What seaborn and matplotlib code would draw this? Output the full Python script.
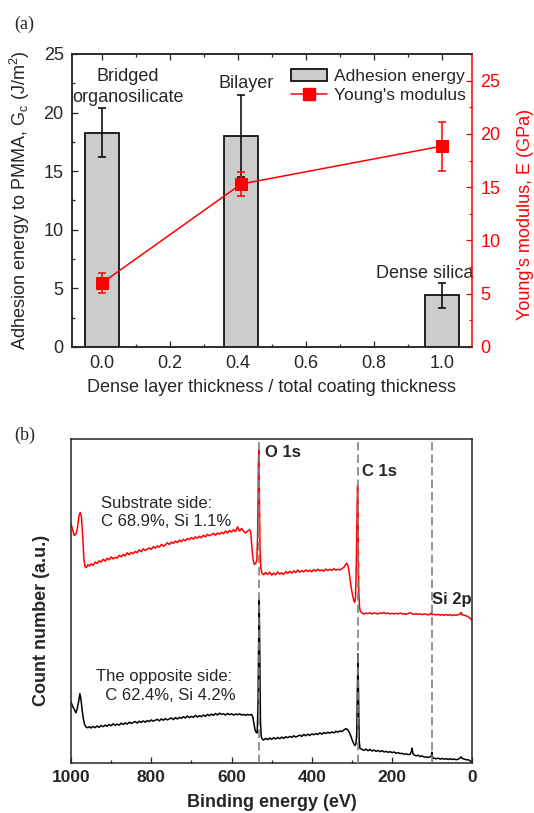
import numpy as np
import matplotlib
matplotlib.use("Agg")
import matplotlib.pyplot as plt
import seaborn as sns
from matplotlib.patches import Patch
from matplotlib.lines import Line2D
from matplotlib.ticker import MultipleLocator

# ---- panel (a) data ----
thickness = [0.0, 0.41, 1.0]
adhesion = [18.3, 18.0, 4.4]
adhesion_err = [2.1, 3.5, 1.1]
modulus = [6.0, 15.3, 18.85]
modulus_err = [0.95, 1.1, 2.3]
sample_names = ["Bridged\norganosilicate", "Bilayer", "Dense silica"]

# ---- panel (b) data: XPS survey spectra (counts, a.u.) ----
red_ev = [1000, 996, 992, 988, 984, 980, 977, 974, 971, 968,
          965, 962, 958, 954, 950, 945, 940, 935, 930, 925,
          920, 915, 910, 905, 900, 895, 890, 885, 880, 875,
          870, 865, 860, 855, 850, 845, 840, 835, 830, 825,
          820, 815, 810, 805, 800, 795, 790, 785, 780, 775,
          770, 765, 760, 755, 750, 745, 740, 735, 730, 725,
          720, 715, 710, 705, 700, 695, 690, 685, 680, 675,
          670, 665, 660, 655, 650, 645, 640, 635, 630, 625,
          620, 615, 610, 605, 600, 595, 590, 585, 580, 575,
          570, 565, 560, 555, 552, 549, 546, 543, 540, 537,
          535, 533, 532, 531, 529, 527, 524, 520, 515, 510,
          505, 500, 495, 490, 485, 480, 475, 470, 465, 460,
          455, 450, 445, 440, 435, 430, 425, 420, 415, 410,
          405, 400, 395, 390, 385, 380, 375, 370, 365, 360,
          355, 350, 345, 340, 335, 330, 325, 320, 316, 313,
          310, 307, 304, 301, 298, 295, 293, 291, 289, 287,
          286, 285, 284, 283, 281, 279, 275, 270, 265, 260,
          255, 250, 245, 240, 235, 230, 225, 220, 215, 210,
          205, 200, 195, 190, 185, 180, 175, 170, 165, 160,
          155, 150, 145, 140, 135, 130, 125, 120, 115, 110,
          105, 102, 100, 95, 90, 85, 80, 75, 70, 65,
          60, 55, 50, 45, 40, 35, 30, 28, 25, 20,
          15, 10, 5, 0]
red_counts = [73.8, 72.0, 70.2, 70.6, 72.5, 76.5, 77.3, 76.0, 70.0, 63.0,
              60.6, 60.3, 61.2, 60.8, 61.5, 61.0, 62.0, 61.6, 62.4, 62.0,
              62.9, 62.3, 63.2, 62.7, 63.6, 63.0, 63.5, 63.2, 64.1, 63.6,
              64.4, 63.9, 64.9, 64.3, 65.0, 64.6, 65.3, 64.9, 65.8, 65.2,
              66.1, 65.6, 66.0, 66.4, 65.9, 66.8, 66.3, 67.0, 66.6, 67.5,
              66.9, 67.3, 68.0, 67.4, 68.2, 67.8, 68.5, 68.0, 68.8, 68.3,
              69.0, 68.6, 69.3, 68.9, 69.6, 69.1, 69.8, 69.4, 70.0, 69.5,
              70.3, 69.8, 70.6, 70.1, 70.5, 70.9, 70.3, 71.0, 70.6, 71.2,
              70.8, 71.6, 71.0, 71.8, 71.3, 72.0, 71.4, 72.9, 71.6, 72.4,
              71.5, 71.0, 71.6, 72.0, 71.2, 66.0, 62.5, 61.3, 61.6, 62.5,
              70.0, 93.0, 96.7, 88.0, 66.0, 60.0, 58.5, 58.1, 58.8, 58.2,
              58.9, 58.0, 58.6, 58.1, 59.0, 58.3, 58.7, 58.2, 59.1, 58.5,
              59.2, 58.6, 59.3, 58.8, 59.6, 58.9, 59.4, 59.0, 59.6, 59.1,
              59.5, 59.0, 59.7, 59.2, 59.8, 59.3, 59.6, 59.2, 59.9, 59.4,
              59.8, 59.4, 60.0, 59.5, 59.8, 59.6, 60.0, 60.4, 61.2, 61.7,
              61.0, 59.0, 56.0, 53.5, 51.5, 50.0, 49.6, 51.0, 62.0, 80.0,
              85.6, 82.0, 65.0, 53.0, 48.0, 46.8, 46.3, 46.0, 46.3, 46.1,
              46.4, 46.0, 46.3, 46.2, 46.0, 46.3, 46.2, 46.5, 46.1, 46.3,
              46.0, 46.2, 46.0, 46.2, 46.0, 46.3, 46.0, 46.1, 45.9, 46.1,
              46.4, 46.0, 45.9, 46.1, 45.9, 46.0, 45.8, 46.0, 45.9, 45.7,
              45.9, 46.4, 45.8, 45.9, 45.7, 45.9, 45.6, 45.8, 45.6, 45.8,
              45.6, 45.8, 45.5, 45.7, 45.6, 45.8, 46.0, 46.5, 45.7, 45.6,
              45.4, 45.1, 44.6, 44.0]

black_ev = [1000, 996, 992, 988, 985, 981, 978, 975, 972, 969,
            966, 962, 958, 954, 950, 945, 940, 935, 930, 925,
            920, 915, 910, 905, 900, 895, 890, 885, 880, 875,
            870, 865, 860, 855, 850, 845, 840, 835, 830, 825,
            820, 815, 810, 805, 800, 795, 790, 785, 780, 775,
            770, 765, 760, 755, 750, 745, 740, 735, 730, 725,
            720, 715, 710, 705, 700, 695, 690, 685, 680, 675,
            670, 665, 660, 655, 650, 645, 640, 635, 630, 625,
            620, 615, 610, 605, 600, 595, 590, 585, 580, 575,
            570, 565, 560, 555, 550, 547, 544, 541, 538, 536,
            534, 532, 531, 530, 528, 526, 523, 520, 515, 510,
            505, 500, 495, 490, 485, 480, 475, 470, 465, 460,
            455, 450, 445, 440, 435, 430, 425, 420, 415, 410,
            405, 400, 395, 390, 385, 380, 375, 370, 365, 360,
            355, 350, 345, 340, 335, 330, 325, 320, 315, 311,
            307, 303, 299, 295, 292, 290, 288, 286, 285, 284,
            282, 280, 275, 270, 265, 260, 255, 250, 245, 240,
            235, 230, 225, 220, 215, 210, 205, 200, 195, 190,
            185, 180, 175, 170, 165, 160, 155, 152, 150, 148,
            145, 140, 135, 130, 125, 120, 115, 110, 105, 102,
            101, 100, 98, 95, 90, 85, 80, 75, 70, 65,
            60, 55, 50, 45, 40, 35, 30, 28, 25, 20,
            15, 10, 5, 0]
black_counts = [18.8, 17.5, 16.6, 15.5, 16.5, 19.0, 21.4, 19.5, 16.0, 13.5,
                11.8, 11.0, 10.9, 11.2, 10.8, 11.3, 10.9, 11.4, 11.0, 11.6,
                11.2, 11.7, 11.3, 11.9, 11.5, 12.1, 11.6, 12.0, 11.7, 12.3,
                11.9, 12.4, 12.0, 12.6, 12.2, 12.5, 12.8, 12.3, 12.9, 12.5,
                13.0, 12.6, 13.1, 12.8, 13.3, 12.9, 13.2, 13.5, 13.0, 13.6,
                13.2, 13.7, 13.3, 13.6, 13.9, 13.4, 14.0, 13.6, 14.1, 13.8,
                14.3, 13.9, 14.5, 14.0, 14.4, 14.1, 14.7, 14.2, 14.6, 14.3,
                14.8, 14.4, 15.0, 14.6, 15.1, 14.7, 15.3, 14.8, 15.4, 15.0,
                15.2, 14.8, 15.3, 14.9, 15.2, 14.8, 15.1, 14.9, 15.2, 14.8,
                15.0, 14.7, 15.0, 14.8, 15.0, 14.2, 12.0, 10.0, 9.4, 9.3,
                18.0, 43.0, 50.3, 36.0, 13.0, 8.2, 7.3, 7.1, 7.6, 7.2,
                7.7, 7.3, 7.8, 7.4, 7.9, 7.5, 8.0, 7.6, 8.1, 7.8,
                8.2, 7.9, 8.4, 8.0, 8.3, 8.6, 8.2, 8.8, 8.4, 8.9,
                8.5, 9.0, 8.7, 9.1, 8.8, 9.3, 8.9, 9.4, 9.1, 9.5,
                9.2, 9.6, 9.3, 9.8, 9.5, 9.9, 9.7, 10.2, 10.6, 10.3,
                9.6, 8.4, 7.0, 5.8, 5.4, 6.0, 9.0, 25.0, 33.7, 26.0,
                7.0, 4.5, 4.2, 3.9, 4.3, 3.8, 4.2, 3.7, 4.0, 3.6,
                3.9, 3.5, 3.8, 3.4, 3.6, 3.3, 3.5, 3.2, 3.4, 3.0,
                3.2, 2.9, 3.0, 2.7, 2.8, 2.6, 2.7, 3.5, 4.6, 2.9,
                2.5, 2.2, 2.4, 2.0, 2.2, 1.8, 1.9, 1.7, 1.9, 2.2,
                3.3, 2.4, 1.4, 1.5, 1.3, 1.5, 1.2, 1.4, 1.2, 1.3,
                1.1, 1.3, 1.1, 1.2, 1.0, 1.2, 1.6, 1.9, 1.4, 1.2,
                1.0, 1.0, 0.6, 0.3]

peak_ev = [531, 285.5, 101]
peak_names = ["O 1s", "C 1s", "Si 2p"]

sns.set_style("ticks")
plt.rcParams["font.family"] = ["Liberation Sans", "DejaVu Sans"]
plt.rcParams["mathtext.fontset"] = "custom"
plt.rcParams["mathtext.rm"] = "Liberation Sans"
plt.rcParams["mathtext.it"] = "Liberation Sans:italic"
plt.rcParams["axes.linewidth"] = 1.1

fig = plt.figure(figsize=(5.34, 8.13), dpi=100)

# ================= panel (a) =================
ax = fig.add_axes([0.1348, 0.5732, 0.7491, 0.3604])
sns.barplot(x=thickness, y=adhesion, native_scale=True, width=0.1 / 0.41,
            color="#cccccc", saturation=1, edgecolor="black", linewidth=1.2,
            errorbar=None, ax=ax)
ax.errorbar(thickness, adhesion, yerr=adhesion_err, fmt="none",
            ecolor="black", elinewidth=1.1, capsize=3, capthick=1.1)
ax.set_xlim(-0.088, 1.089)
ax.set_ylim(0, 25)
ax.xaxis.set_major_locator(MultipleLocator(0.2))
ax.xaxis.set_minor_locator(MultipleLocator(0.1))
ax.yaxis.set_major_locator(MultipleLocator(5))
ax.yaxis.set_minor_locator(MultipleLocator(2.5))
ax.set_xticks([0.0, 0.2, 0.4, 0.6, 0.8, 1.0])
ax.set_xticklabels(["0.0", "0.2", "0.4", "0.6", "0.8", "1.0"])
ax.tick_params(which="both", direction="in", top=True, right=False,
               labelsize=13, width=0.9)
ax.tick_params(which="major", length=4, pad=6)
ax.tick_params(which="minor", length=2.2)
ax.spines["right"].set_visible(False)
ax.set_xlabel("Dense layer thickness / total coating thickness", fontsize=13)
ax.set_ylabel("Adhesion energy to PMMA, G$_\\mathrm{c}$ (J/m$^2$)", fontsize=13)
ax.xaxis.set_label_coords(0.5, -0.11)
ax.yaxis.set_label_coords(-0.1, 0.5)

ax.text(0.077, 22.2, sample_names[0], ha="center", va="center", fontsize=13,
        linespacing=1.3)
ax.text(0.425, 22.45, sample_names[1], ha="center", va="center", fontsize=13)
ax.text(0.95, 6.3, sample_names[2], ha="center", va="center", fontsize=13)

ax2 = ax.twinx()
sns.lineplot(x=thickness, y=modulus, ax=ax2, color="red", marker="s",
             markersize=8, markeredgecolor="red", linewidth=1.1,
             estimator=None)
ax2.errorbar(thickness, modulus, yerr=modulus_err, fmt="none", ecolor="red",
             elinewidth=1.1, capsize=3, capthick=1.1)
ax2.set_ylim(0, 27.5)
ax2.yaxis.set_major_locator(MultipleLocator(5))
ax2.yaxis.set_minor_locator(MultipleLocator(2.5))
ax2.tick_params(which="both", direction="in", colors="red", labelsize=13,
                width=0.9)
ax2.tick_params(which="major", length=4, pad=6)
ax2.tick_params(which="minor", length=2.2)
ax2.spines["right"].set_color("red")
ax2.set_ylabel("Young's modulus, E (GPa)", color="red", fontsize=13)
ax2.yaxis.set_label_coords(1.112, 0.454)

handles = [Patch(facecolor="#cccccc", edgecolor="black", linewidth=1.2),
           Line2D([], [], color="red", marker="s", markersize=8, linewidth=1.1)]
ax2.legend(handles, ["Adhesion energy", "Young's modulus"], loc="upper right",
           frameon=False, fontsize=12.5, handlelength=2.1, handletextpad=0.4,
           labelspacing=0.2, borderaxespad=0.3, bbox_to_anchor=(1.015, 0.99))

# ================= panel (b) =================
bx = fig.add_axes([0.133, 0.0615, 0.7515, 0.3985])
sns.lineplot(x=red_ev, y=red_counts, ax=bx, color="red", linewidth=1.1,
             estimator=None)
sns.lineplot(x=black_ev, y=black_counts, ax=bx, color="black", linewidth=1.1,
             estimator=None)
for ev in peak_ev:
    bx.axvline(ev, color="gray", linestyle=(0, (5, 2.5)), linewidth=1.2,
               zorder=3)
bx.set_xlim(1000, 0)
bx.set_ylim(0, 100)
bx.set_yticks([])
bx.xaxis.set_major_locator(MultipleLocator(200))
bx.xaxis.set_minor_locator(MultipleLocator(100))
bx.tick_params(axis="x", which="both", direction="in", labelsize=12.5,
               width=0.9, pad=5)
bx.tick_params(axis="x", which="major", length=4)
bx.tick_params(axis="x", which="minor", length=2.5)
for lab in bx.get_xticklabels():
    lab.set_fontweight("bold")
bx.set_xlabel("Binding energy (eV)", fontsize=13, fontweight="bold")
bx.set_ylabel("Count number (a.u.)", fontsize=13, fontweight="bold")
bx.xaxis.set_label_coords(0.5, -0.097)
bx.yaxis.set_label_coords(-0.052, 0.44)

bx.text(517, 95.7, peak_names[0], fontsize=12, fontweight="bold", va="center")
bx.text(274, 90.0, peak_names[1], fontsize=12, fontweight="bold", va="center")
bx.text(101, 50.6, peak_names[2], fontsize=12, fontweight="bold", va="center")
bx.text(925, 82.5, "Substrate side:\nC 68.9%, Si 1.1%", fontsize=12,
        va="top", ha="left", linespacing=1.3)
bx.text(937, 29.0, "The opposite side:\n  C 62.4%, Si 4.2%", fontsize=12,
        va="top", ha="left", linespacing=1.3)

fig.text(0.026, 1 - 24 / 813, "(a)", fontsize=13, va="center",
         family="Liberation Serif")
fig.text(0.026, 1 - 435 / 813, "(b)", fontsize=13, va="center",
         family="Liberation Serif")

fig.savefig("out.png", dpi=100)
plt.close(fig)
